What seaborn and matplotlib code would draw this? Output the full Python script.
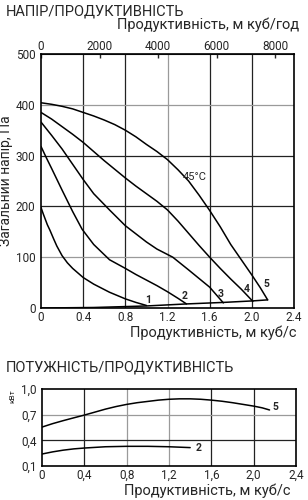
import matplotlib
matplotlib.use("Agg")
import matplotlib.pyplot as plt
import seaborn as sns

# --- pressure / flow curves (flow in m3/s, pressure in Pa) ---
q1 = [0, 0.02, 0.04, 0.06, 0.085, 0.12, 0.15, 0.2, 0.25, 0.3, 0.4, 0.5, 0.65, 0.8, 0.9, 1.0]
p1 = [198, 186, 175, 164, 153, 136, 122, 103, 89, 78, 60, 47, 31, 18, 11, 5]
q2 = [0, 0.05, 0.1, 0.2, 0.3, 0.39, 0.5, 0.65, 0.8, 0.9, 1.0, 1.1, 1.2, 1.3, 1.38]
p2 = [318, 296, 275, 232, 190, 155, 125, 95, 78, 66, 55, 44, 32, 19, 8]
q3 = [0, 0.1, 0.2, 0.3, 0.4, 0.5, 0.65, 0.8, 0.9, 1.0, 1.1, 1.25, 1.4, 1.5, 1.6, 1.73]
p3 = [366, 340, 313, 283, 253, 225, 193, 162, 146, 130, 116, 100, 75, 58, 41, 10]
q4 = [0, 0.1, 0.2, 0.3, 0.4, 0.5, 0.6, 0.7, 0.8, 0.9, 1.0, 1.1, 1.2, 1.3, 1.4, 1.5, 1.6, 1.7, 1.8, 1.9, 2.01]
p4 = [385, 372, 357, 342, 326, 308, 290, 273, 256, 240, 225, 210, 193, 171, 147, 123, 100, 78, 57, 37, 13]
q5 = [0, 0.1, 0.2, 0.3, 0.4, 0.5, 0.6, 0.7, 0.8, 0.9, 1.0, 1.1, 1.2, 1.3,
      1.4, 1.5, 1.6, 1.7, 1.8, 1.9, 2.0, 2.08, 2.15]
p5 = [404, 401, 397, 392, 385, 378, 370, 361, 350, 337, 322, 308, 292, 272,
      250, 222, 192, 160, 125, 95, 65, 40, 16]
# operating line along the bottom
q_sys = [0, 0.5, 1.0, 1.38, 1.73, 2.01, 2.15]
p_sys = [0, 1, 4, 8, 11, 14, 16]

# --- power curves (kW) ---
qw2 = [0, 0.1, 0.2, 0.3, 0.4, 0.6, 0.8, 1.0, 1.2, 1.4]
w2 = [0.24, 0.265, 0.285, 0.3, 0.31, 0.325, 0.33, 0.33, 0.325, 0.315]
qw5 = [0, 0.1, 0.2, 0.3, 0.4, 0.5, 0.6, 0.7, 0.8, 0.9, 1.0, 1.1, 1.2, 1.3, 1.4,
       1.5, 1.6, 1.7, 1.8, 1.9, 2.0, 2.08, 2.15]
w5 = [0.555, 0.595, 0.63, 0.663, 0.695, 0.73, 0.765, 0.795, 0.82, 0.84, 0.855, 0.87, 0.88,
      0.885, 0.885, 0.88, 0.87, 0.857, 0.84, 0.82, 0.80, 0.78, 0.755]

curve_labels = ["1", "2", "3", "4", "5"]
label_x = [1.02, 1.36, 1.70, 1.95, 2.14]
label_y = [16, 24, 28, 37, 47]

x_ticks = [0, 0.4, 0.8, 1.2, 1.6, 2.0, 2.4]
x_dot = ["0", "0.4", "0.8", "1.2", "1.6", "2.0", "2.4"]
x_comma = ["0", "0,4", "0,8", "1,2", "1,6", "2,0", "2,4"]
p_ticks = [0, 100, 200, 300, 400, 500]
w_ticks = [0.1, 0.4, 0.7, 1.0]
w_labels = ["0,1", "0,4", "0,7", "1,0"]
m3h_ticks = [0, 2000, 4000, 6000, 8000]

sns.set_style("white")
plt.rcParams["font.family"] = ["Roboto", "DejaVu Sans"]

fig = plt.figure(figsize=(3.08, 5.0), dpi=100)
ax = fig.add_axes([41 / 308, 192 / 500, 253 / 308, 254 / 500])
ax2 = fig.add_axes([42 / 308, 34 / 500, 254 / 308, 77 / 500])

BLACK_GRID = "#222222"
GRAY_GRID = "#9a9a9a"

# grid, some lines darker than others like the original
for xv, c in zip([0.4, 0.8, 1.2, 1.6, 2.0], [BLACK_GRID, BLACK_GRID, GRAY_GRID, BLACK_GRID, BLACK_GRID]):
    ax.axvline(xv, color=c, lw=0.9, zorder=0)
for yv, c in zip([100, 200, 300, 400], [GRAY_GRID, BLACK_GRID, BLACK_GRID, GRAY_GRID]):
    ax.axhline(yv, color=c, lw=0.9, zorder=0)

for q, p in [(q1, p1), (q2, p2), (q3, p3), (q4, p4), (q5, p5), (q_sys, p_sys)]:
    sns.lineplot(x=q, y=p, ax=ax, color="black", lw=1.1, sort=False, estimator=None)

for t, xx, yy in zip(curve_labels, label_x, label_y):
    ax.text(xx, yy, t, fontsize=7.5, fontweight="bold", ha="center", va="center")
ax.text(1.34, 258, "45°C", fontsize=8, ha="left", va="center")

ax.set_xlim(0, 2.4)
ax.set_ylim(0, 500)
ax.set_xticks(x_ticks, x_dot)
ax.set_yticks(p_ticks)
ax.tick_params(axis="y", length=0, labelsize=8.5, pad=4)
ax.tick_params(axis="x", length=0, labelsize=8.5, pad=2)
for s in ax.spines.values():
    s.set_linewidth(1.2)
    s.set_color("black")

top = ax.secondary_xaxis("top", functions=(lambda v: v * 3600, lambda v: v / 3600))
top.set_xticks(m3h_ticks)
top.tick_params(direction="in", length=3, width=1, labelsize=8.5, pad=1)

ax.set_ylabel("Загальний напір, Па", fontsize=10, labelpad=2)

# power chart
for xv, c in zip([0.4, 0.8, 1.2, 1.6, 2.0], [BLACK_GRID, GRAY_GRID, GRAY_GRID, BLACK_GRID, BLACK_GRID]):
    ax2.axvline(xv, color=c, lw=0.9, zorder=0)
for yv, c in zip([0.4, 0.7], [BLACK_GRID, GRAY_GRID]):
    ax2.axhline(yv, color=c, lw=0.9, zorder=0)

sns.lineplot(x=qw2, y=w2, ax=ax2, color="black", lw=1.1, sort=False, estimator=None)
sns.lineplot(x=qw5, y=w5, ax=ax2, color="black", lw=1.1, sort=False, estimator=None)
ax2.text(1.45, 0.31, "2", fontsize=7.5, fontweight="bold", ha="left", va="center")
ax2.text(2.18, 0.79, "5", fontsize=7.5, fontweight="bold", ha="left", va="center")

ax2.set_xlim(0, 2.4)
ax2.set_ylim(0.1, 1.0)
ax2.set_xticks(x_ticks, x_comma)
ax2.set_yticks(w_ticks, w_labels)
ax2.tick_params(axis="y", length=0, labelsize=8.5, pad=4)
ax2.tick_params(axis="x", length=0, labelsize=8.5, pad=2)
for s in ax2.spines.values():
    s.set_linewidth(1.2)
    s.set_color("black")
ax2.set_ylabel("кВт", fontsize=6, labelpad=4, loc="top")

# titles and axis captions
fig.text(6 / 308, 1 - 11 / 500, "НАПІР/ПРОДУКТИВНІСТЬ", fontsize=10.5, va="center", ha="left")
fig.text(299 / 308, 1 - 25 / 500, "Продуктивність, м куб/год", fontsize=10.5, va="center", ha="right")
fig.text(296 / 308, 1 - 333 / 500, "Продуктивність, м куб/с", fontsize=10.5, va="center", ha="right")
fig.text(6 / 308, 1 - 368 / 500, "ПОТУЖНІСТЬ/ПРОДУКТИВНІСТЬ", fontsize=10.5, va="center", ha="left")
fig.text(290 / 308, 1 - 491 / 500, "Продуктивність, м куб/с", fontsize=10.5, va="center", ha="right")

fig.savefig("out.png", dpi=100)
